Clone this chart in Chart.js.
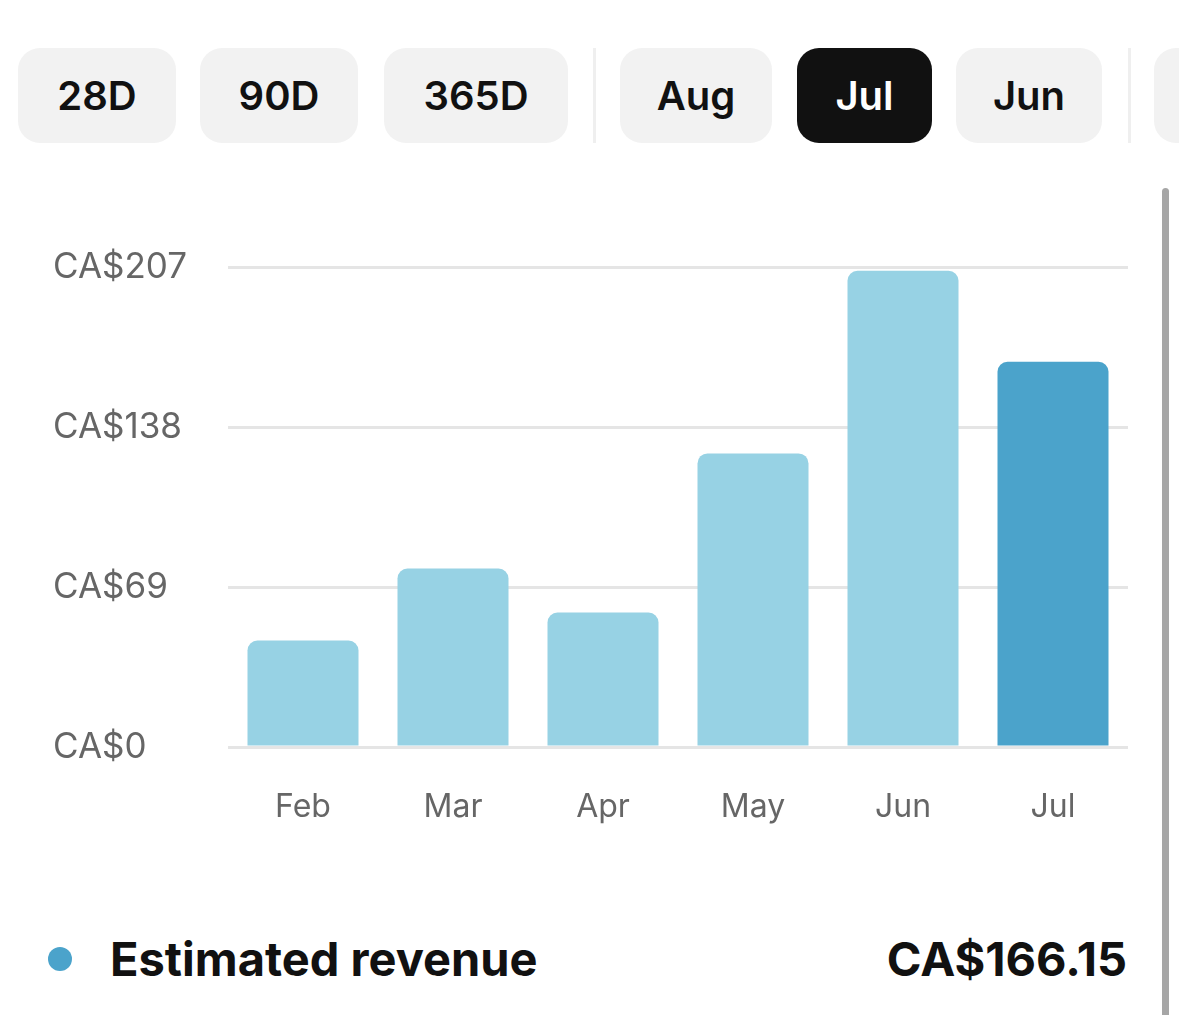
<!DOCTYPE html>
<html lang="en">
<head>
<meta charset="UTF-8">
<title>Estimated revenue</title>
<script src="https://cdn.jsdelivr.net/npm/chart.js"></script>
<style>
  html, body { margin: 0; padding: 0; background: #fff; }
  body { width: 1179px; height: 1015px; position: relative; overflow: hidden; font-family: Inter, "Noto Sans", sans-serif; }
  .pill { position: absolute; top: 48px; height: 95px; border-radius: 22px; background: #f2f2f2; color: #111;
          font-size: 40px; font-weight: 600; display: flex; align-items: center; justify-content: center; }
  .pill.on { background: #111; color: #fff; }
  .sep { position: absolute; top: 48px; width: 3px; height: 95px; background: #efefef; }
  .scroll { position: absolute; left: 1162px; top: 188px; width: 7px; height: 840px; border-radius: 4px; background: #a6a6a6; }
  .wrap { position: absolute; left: 53px; top: 246px; width: 1075px; height: 602px; }
  .legend { position: absolute; top: 930px; left: 0; width: 1127px; height: 58px; }
  .dot { position: absolute; left: 48px; top: 17px; width: 24px; height: 24px; border-radius: 50%; background: #4ba3cb; }
  .lbl { position: absolute; left: 110px; top: 0; font-size: 47px; font-weight: 700; color: #111; line-height: 58px; }
  .val { position: absolute; right: 0; top: 0; font-size: 47px; font-weight: 700; color: #111; line-height: 58px; }
</style>
</head>
<body>
  <div class="pill" style="left:18px;width:158px">28D</div>
  <div class="pill" style="left:200px;width:158px">90D</div>
  <div class="pill" style="left:384px;width:184px">365D</div>
  <div class="sep" style="left:593px"></div>
  <div class="pill" style="left:620px;width:152px">Aug</div>
  <div class="pill on" style="left:797px;width:135px">Jul</div>
  <div class="pill" style="left:956px;width:146px">Jun</div>
  <div class="sep" style="left:1128px"></div>
  <div class="pill" style="left:1154px;width:120px"></div>
  <div class="scroll"></div>

  <div class="wrap"><canvas id="chartRevenue"></canvas></div>

  <div class="legend">
    <div class="dot"></div>
    <div class="lbl">Estimated revenue</div>
    <div class="val">CA$166.15</div>
  </div>

<script>
// dados
const meses = ['Feb', 'Mar', 'Apr', 'May', 'Jun', 'Jul'];
const receita = [45.9, 77.0, 58.0, 126.6, 205.4, 166.15];
const ticksY = [0, 69, 138, 207];

const corClara = '#97d2e4';
const corEscura = '#4ba3cb';

const ctx = document.getElementById('chartRevenue').getContext('2d');
new Chart(ctx, {
  type: 'bar',
  data: {
    labels: meses,
    datasets: [{
      label: 'Estimated revenue',
      data: receita,
      // so o mes selecionado (Jul) fica mais escuro
      backgroundColor: meses.map((m, i) => i === meses.length - 1 ? corEscura : corClara),
      borderRadius: 10,
      barPercentage: 0.74,
      categoryPercentage: 1
    }]
  },
  options: {
    responsive: true,
    maintainAspectRatio: false,
    animation: false,
    layout: { padding: 0 },
    plugins: { legend: { display: false }, tooltip: { enabled: false } },
    scales: {
      x: {
        grid: { display: false },
        border: { display: false },
        ticks: { color: '#666', font: { family: 'Inter', size: 32 }, padding: 33 },
        afterFit: (s) => { s.height = 101; }
      },
      y: {
        min: 0,
        max: 207,
        z: 1, // grade por cima das barras
        afterBuildTicks: (s) => { s.ticks = ticksY.map(v => ({ value: v })); },
        afterFit: (s) => { s.width = 175; },
        grid: { color: 'rgba(0,0,0,0.1)', lineWidth: 3, drawTicks: false },
        border: { display: false },
        ticks: {
          color: '#666',
          font: { family: 'Inter', size: 35 },
          crossAlign: 'far',
          padding: 0,
          callback: (v) => 'CA$' + v
        }
      }
    }
  }
});
</script>
</body>
</html>
